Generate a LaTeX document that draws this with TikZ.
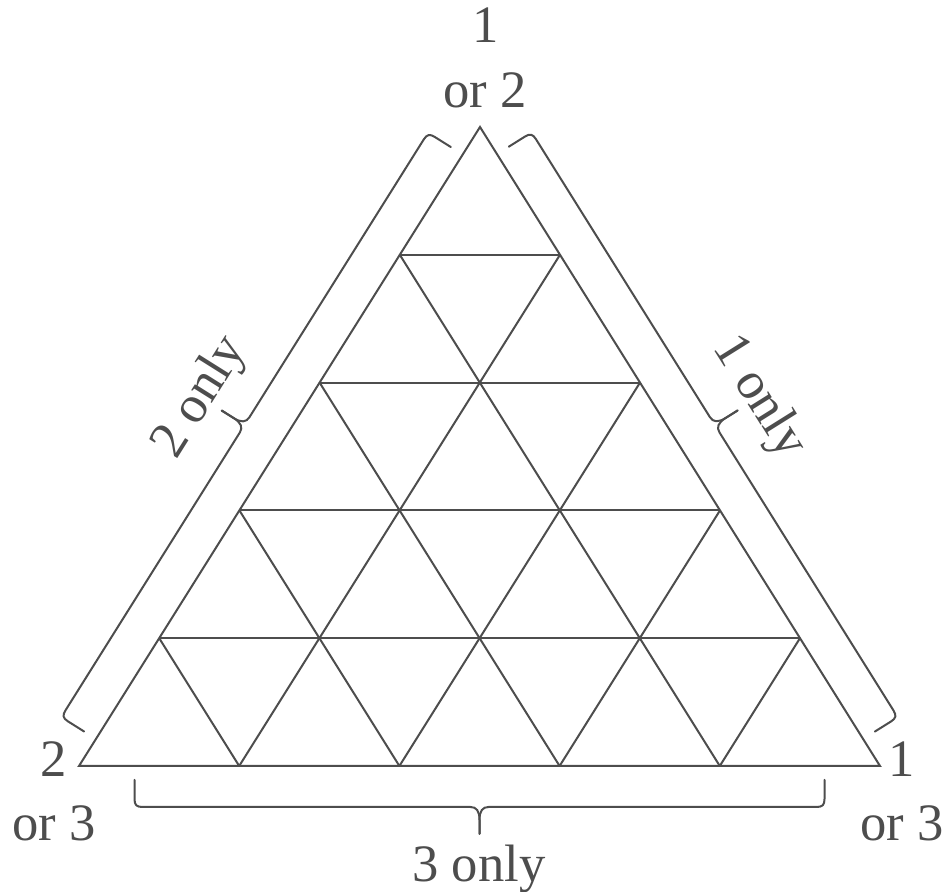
\documentclass[tikz,border=0pt]{standalone}
\usepackage{fontspec}
\setmainfont{Liberation Serif}
\usetikzlibrary{calc}
\definecolor{ink}{HTML}{4D4D4D}
\tikzset{
  lbl/.style={text=ink, font=\fontsize{26.3}{30}\selectfont, inner sep=0pt, anchor=base},
  gridline/.style={draw=ink, line width=1pt},
  bracepath/.style={draw=ink, line width=1pt, line join=round, line cap=round}
}
\newcommand{\drawmybrace}{%
  \draw[bracepath] (0,0) -- (0,19) .. controls (0,25) and (2,27) .. (8,27) -- (336,27)
    .. controls (342,27) and (345,31) .. (345,40) -- (345,54);
  \draw[bracepath] (345,54) -- (345,40) .. controls (345,31) and (348,27) .. (354,27)
    -- (682,27) .. controls (688,27) and (690,25) .. (690,19) -- (690,0);
}
\begin{document}
\begin{tikzpicture}[x=0.5pt,y=0.5pt]
\useasboundingbox (0,0) rectangle (948,892);
\coordinate (A) at (79,126);
\coordinate (B) at (880,126);
\coordinate (C) at (480,765);
% grid
\foreach \k in {1,2,3,4}{
  \draw[gridline] ($(A)!\k/5!(C)$) -- ($(B)!\k/5!(C)$);
  \draw[gridline] ($(A)!\k/5!(B)$) -- ($(C)!\k/5!(B)$);
  \draw[gridline] ($(A)!\k/5!(B)$) -- ($(A)!\k/5!(C)$);
}
\draw[gridline] (A) -- (B) -- (C) -- cycle;
% braces
\begin{scope}[shift={(84.1,160.5)}, rotate=57.89]
  \drawmybrace
  \node[lbl, transform shape] (l2) at (345,66) {2 only};
\end{scope}
\begin{scope}[shift={(508.8,745.3)}, rotate=-57.96]
  \drawmybrace
  \node[lbl, transform shape] (l1) at (345,66) {1 only};
\end{scope}
\begin{scope}[shift={(824.5,112)}, rotate=180]
  \drawmybrace
\end{scope}
\node[lbl] (l3) at (479,10) {3 only};
% vertex labels
\node[lbl] (t1) at (486,849) {1};
\node[lbl] (t2) at (485,784) {or 2};
\node[lbl] (bl1) at (54,115) {2};
\node[lbl] (bl2) at (54,51) {or 3};
\node[lbl] (br1) at (902,115) {1};
\node[lbl] (br2) at (902,51) {or 3};
\end{tikzpicture}
\end{document}
